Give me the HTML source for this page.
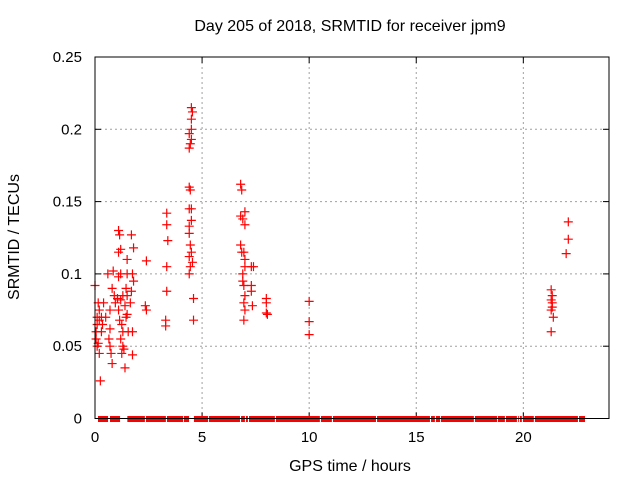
<!DOCTYPE html>
<html><head><meta charset="utf-8"><style>
body{margin:0;background:#fff}
svg{display:block;font-family:"Liberation Sans",sans-serif}
</style></head><body>
<svg id="chart" width="640" height="480" viewBox="0 0 640 480" xmlns="http://www.w3.org/2000/svg">
<rect width="640" height="480" fill="#fff"/>
<text x="350" y="31" font-size="16" text-anchor="middle">Day 205 of 2018, SRMTID for receiver jpm9</text>
<text x="350" y="471" font-size="16" text-anchor="middle">GPS time / hours</text>
<text transform="translate(19,237) rotate(-90)" font-size="16" text-anchor="middle">SRMTID / TECUs</text>
<g id="grid"></g>
<g id="ticks"></g>
<g id="zeros"></g>
<g id="marks"></g>
<rect x="95" y="57" width="514" height="361.5" fill="none" stroke="#000" stroke-width="1"/>
</svg>
<script>
const xTicks=[0,5,10,15,20];
const yTicks=[0,0.05,0.1,0.15,0.2,0.25];
const yTickLabels=["0","0.05","0.1","0.15","0.2","0.25"];
const pointTimes=[0,0.05,0.05,0.1,0.1,0.15,0.2,0.2,0.25,0.1,0.15,0.2,0.3,0.35,0.4,0.3,
0.5,0.6,0.7,0.7,0.75,0.8,0.8,0.85,0.9,0.95,0.7,0.65,
1.1,1.15,1.1,1.2,1.1,1.2,1.05,1.2,1.3,1.1,1.15,1.25,1.2,1.3,1.35,1.25,1.4,1.3,1.5,1.5,1.45,1.5,1.4,1.5,1.55,1.45,
1.7,1.8,1.75,1.8,1.7,1.75,1.75,1.65,2.4,2.35,2.4,
3.35,3.35,3.4,3.35,3.35,3.3,3.3,
4.5,4.55,4.5,4.5,4.4,4.5,4.45,4.4,4.4,4.45,4.4,4.5,4.5,4.4,4.4,4.45,4.5,4.4,4.55,4.45,4.4,4.6,4.6,
6.8,6.85,6.8,6.9,7.0,7.0,6.8,6.85,6.95,7.0,7.0,6.9,6.9,6.95,7.0,6.95,7.0,6.95,7.3,7.3,7.35,7.4,7.3,
8.0,8.0,8.0,8.05,10.0,10.0,10.0,
21.3,21.35,21.3,21.35,21.35,21.3,21.4,21.3,22.1,22.1,22.0];
const pointValues=[0.092,0.06,0.055,0.065,0.07,0.08,0.075,0.045,0.026,0.05,0.052,0.068,0.07,0.065,0.08,0.06,
0.07,0.1,0.075,0.05,0.045,0.038,0.09,0.102,0.085,0.08,0.062,0.055,
0.13,0.127,0.115,0.117,0.098,0.1,0.083,0.082,0.085,0.075,0.068,0.065,0.055,0.05,0.048,0.045,0.035,0.06,0.11,0.1,0.09,0.085,0.078,0.072,0.06,0.07,
0.127,0.118,0.1,0.095,0.088,0.06,0.044,0.08,0.109,0.078,0.075,
0.142,0.134,0.123,0.105,0.088,0.068,0.064,
0.215,0.212,0.207,0.2,0.197,0.193,0.19,0.187,0.16,0.158,0.145,0.145,0.137,0.133,0.128,0.12,0.115,0.112,0.108,0.105,0.1,0.083,0.068,
0.162,0.158,0.14,0.138,0.143,0.134,0.12,0.115,0.115,0.11,0.105,0.1,0.095,0.092,0.085,0.08,0.075,0.068,0.105,0.092,0.078,0.105,0.088,
0.083,0.08,0.073,0.072,0.081,0.067,0.058,
0.089,0.085,0.082,0.08,0.077,0.075,0.07,0.06,0.136,0.124,0.114];
const zeroRunStarts=[0.14,0.70,1.51,2.38,3.36,4.15,4.62,5.32,6.82,7.05,7.19,8.45,10.55,11.11,13.17,15.69,15.92,16.15,17.74,18.81,19.19,19.75,19.84,19.98,20.54,22.60];
const zeroRunEnds=[0.61,1.17,2.33,3.31,4.11,4.39,5.28,6.77,7.00,7.14,8.40,10.50,11.06,13.12,15.64,15.87,16.11,17.69,18.77,19.14,19.70,19.79,19.93,20.49,22.55,22.88];
const X0=95,X1=609,Y0=418.5,Y1=57,XMAX=24,YMAX=0.25;
const sx=v=>X0+(X1-X0)*v/XMAX;
const sy=v=>Y0-(Y0-Y1)*v/YMAX;
const NS="http://www.w3.org/2000/svg";
function mk(tag,attrs,parent){const e=document.createElementNS(NS,tag);for(const k in attrs)e.setAttribute(k,attrs[k]);parent.appendChild(e);return e;}
const grid=document.getElementById('grid'),ticks=document.getElementById('ticks'),svg=document.getElementById('chart');
xTicks.forEach((t,i)=>{const x=sx(t);
 if(t>0){const g=mk('line',{x1:x,x2:x,y1:Y1,y2:Y0,stroke:'#a0a0a0','stroke-dasharray':'2,3'},grid);
 
 }
 mk('line',{x1:x,x2:x,y1:Y0,y2:Y0-6,stroke:'#000'},ticks);
 mk('line',{x1:x,x2:x,y1:Y1,y2:Y1+6,stroke:'#000'},ticks);
 const l=mk('text',{x:x,y:442,'font-size':15,'text-anchor':'middle',fill:'#000'},svg);l.textContent=String(t);
 
 
});
yTicks.forEach((t,i)=>{const y=sy(t);
 if(t>0&&t<YMAX){const g=mk('line',{x1:X0,x2:X1,y1:y,y2:y,stroke:'#a0a0a0','stroke-dasharray':'2,3'},grid);
 
 }
 mk('line',{x1:X0,x2:X0+6,y1:y,y2:y,stroke:'#000'},ticks);
 mk('line',{x1:X1,x2:X1-6,y1:y,y2:y,stroke:'#000'},ticks);
 const l=mk('text',{x:82,y:y+5,'font-size':15,'text-anchor':'end',fill:'#000'},svg);l.textContent=yTickLabels[i];
 
 
});
const zg=document.getElementById('zeros');
zeroRunStarts.forEach((s,i)=>{const r=mk('rect',{x:sx(s),y:sy(0)-2.5,width:sx(zeroRunEnds[i])-sx(s),height:6,fill:'#f00'},zg);
 
 
});
const mg=document.getElementById('marks');
pointTimes.forEach((t,i)=>{const x=sx(t),y=sy(pointValues[i]);
 const p=mk('path',{d:`M${x-4.5},${y}H${x+4.5}M${x},${y-4.5}V${y+4.5}`,stroke:'#f00','stroke-width':1.2,fill:'none'},mg);
 
 
});
</script>
</body></html>
